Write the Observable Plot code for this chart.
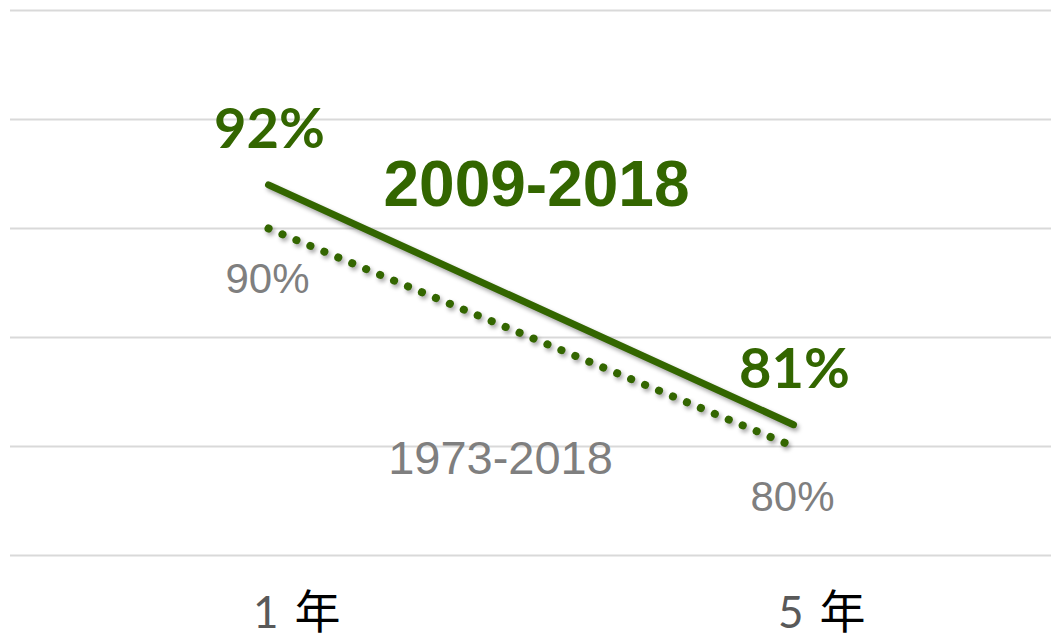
<!DOCTYPE html>
<html>
<head>
<meta charset="utf-8">
<script src="https://cdn.jsdelivr.net/npm/d3@7"></script>
<script src="https://cdn.jsdelivr.net/npm/@observablehq/plot@0.6"></script>
<style>
  html, body { margin: 0; padding: 0; background: #ffffff; }
  #chart svg { display: block; }
</style>
</head>
<body>
<div id="chart"></div>
<script>
// ---- data ----
const periods = ["1年", "5年"];
const periodDigits = ["1", "5"];
const periodUnit = "年";
const recentValues = [92, 81];      // 2009-2018
const longTermValues = [90, 80];    // 1973-2018
const recentName = "2009-2018";
const longTermName = "1973-2018";
const gridTicks = [75, 80, 85, 90, 95, 100];

const green = "#336600";
const grey = "#7f7f7f";

const recent = periods.map((p, i) => ({period: p, value: recentValues[i], label: recentValues[i] + "%"}));
const longTerm = periods.map((p, i) => ({period: p, value: longTermValues[i], label: longTermValues[i] + "%"}));
const axisLabels = periods.map((p, i) => ({period: p, digit: periodDigits[i], unit: periodUnit}));

const shadow = "drop-shadow(2px 3px 2px rgba(0,0,0,0.35))";

const chart = Plot.plot({
  width: 1051,
  height: 643,
  marginLeft: 10,
  marginRight: 0,
  marginTop: 10,
  marginBottom: 88,
  x: {type: "point", domain: periods, padding: 0.49, axis: null},
  y: {domain: [75, 100], axis: null},
  marks: [
    Plot.ruleY(gridTicks, {stroke: "#d9d9d9", strokeWidth: 2}),
    Plot.line(longTerm, {
      x: "period", y: "value", stroke: green, strokeWidth: 8,
      strokeDasharray: "0.1 15", strokeLinecap: "round", imageFilter: shadow
    }),
    Plot.line(recent, {
      x: "period", y: "value", stroke: green, strokeWidth: 7,
      strokeLinecap: "round", imageFilter: shadow
    }),
    // value labels
    Plot.text(recent, {
      x: "period", y: "value", text: "label", dy: -55, dx: 1,
      fill: green, fontSize: 56, fontWeight: "bold", fontFamily: "Lato"
    }),
    Plot.text(longTerm, {
      x: "period", y: "value", text: "label", dy: 51, dx: -1,
      fill: grey, fontSize: 42, fontFamily: "Liberation Sans"
    }),
    // series names
    Plot.text([recent[0]], {
      x: "period", y: "value", text: () => recentName, dx: 268, dy: 1,
      fill: green, fontSize: 64, fontWeight: "bold", fontFamily: "Liberation Sans"
    }),
    Plot.text([longTerm[1]], {
      x: "period", y: "value", text: () => longTermName, dx: -293, dy: 12,
      fill: grey, fontSize: 47, fontFamily: "Liberation Sans"
    }),
    // category axis labels
    Plot.text(axisLabels, {
      x: "period", text: "digit", frameAnchor: "bottom", dy: 72, dx: 10,
      textAnchor: "end", fill: "#595959", fontSize: 44, fontFamily: "Lato"
    }),
    Plot.text(axisLabels, {
      x: "period", text: "unit", frameAnchor: "bottom", dy: 72, dx: 26,
      textAnchor: "start", fill: "#000000", fontSize: 46, fontFamily: "Noto Sans CJK SC"
    })
  ]
});

document.getElementById("chart").appendChild(chart);
</script>
</body>
</html>
